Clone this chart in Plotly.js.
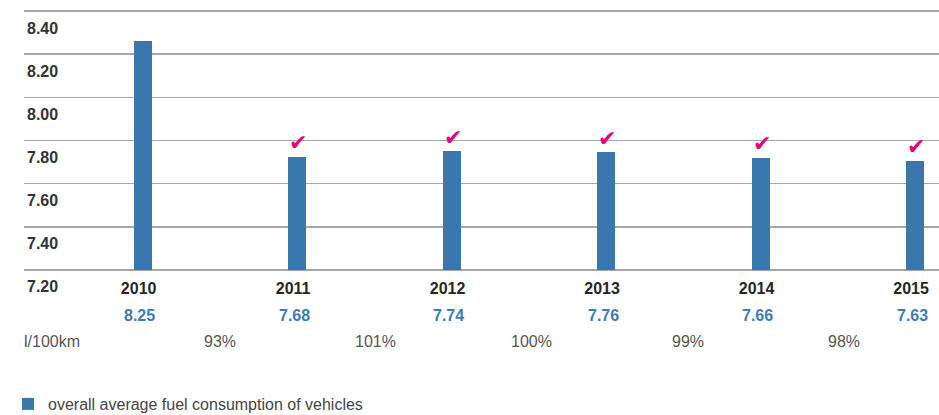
<!DOCTYPE html>
<html>
<head>
<meta charset="utf-8">
<script src="https://cdn.plot.ly/plotly-3.0.1.min.js"></script>
<style>
  html, body { margin: 0; padding: 0; background: #ffffff; }
  #chart { width: 939px; height: 415px; }
</style>
</head>
<body>
<div id="chart"></div>
<script>
// ---- data ----
const years = ["2010", "2011", "2012", "2013", "2014", "2015"];
// bar heights as drawn in the picture (l/100km)
const barValues = [8.26, 7.724, 7.751, 7.746, 7.72, 7.705];
// printed value labels under the years
const valueLabels = ["8.25", "7.68", "7.74", "7.76", "7.66", "7.63"];
// year-over-year percentages shown between years
const changeLabels = ["93%", "101%", "100%", "99%", "98%"];
// check marks above bars
const checked = [false, true, true, true, true, true];
const yTicks = [7.2, 7.4, 7.6, 7.8, 8.0, 8.2, 8.4];
const yTickText = ["7.20", "7.40", "7.60", "7.80", "8.00", "8.20", "8.40"];
const unitLabel = "l/100km";
const seriesName = "overall average fuel consumption of vehicles";

// ---- styling ----
const FONT = "'Liberation Sans Narrow', 'Liberation Sans', Arial, sans-serif";
const BLUE = "#3a77ae";
const MAGENTA = "#e4007c";
const BASE = 7.2;

const xIdx = years.map((_, i) => i);

const traces = [{
  type: "bar",
  x: xIdx,
  y: barValues.map(v => v - BASE),
  base: BASE,
  width: 0.1165,
  marker: { color: BLUE, line: { width: 0 } },
  name: seriesName,
  hoverinfo: "skip",
  showlegend: true
}];

const annotations = [];
years.forEach((y, i) => {
  annotations.push({
    x: i, xref: "x", y: BASE, yref: "y",
    text: valueLabels[i], showarrow: false,
    xanchor: "center", yanchor: "middle",
    xshift: -3, yshift: -46,
    font: { family: FONT, size: 16, color: "#3d7bb5", weight: "bold" }
  });
  if (checked[i]) {
    annotations.push({
      x: i, xref: "x", y: barValues[i], yref: "y",
      text: "\u2714", showarrow: false,
      xanchor: "center", yanchor: "middle",
      xshift: 1, yshift: 14,
      font: { family: "DejaVu Sans", size: 22, color: MAGENTA }
    });
  }
});
changeLabels.forEach((t, i) => {
  annotations.push({
    x: i + 0.5, xref: "x", y: BASE, yref: "y",
    text: t, showarrow: false,
    xanchor: "center", yanchor: "middle",
    xshift: i * 1.5, yshift: -72,
    font: { family: FONT, size: 16, color: "#555555" }
  });
});
annotations.push({
  x: 0, xref: "paper", y: BASE, yref: "y",
  text: unitLabel, showarrow: false,
  xanchor: "left", yanchor: "middle",
  xshift: -2, yshift: -72,
  font: { family: FONT, size: 16, color: "#555555" }
});

const layout = {
  width: 939, height: 415,
  margin: { l: 24, r: 0, t: 8.54, b: 142.84, pad: 0 },
  paper_bgcolor: "#ffffff",
  plot_bgcolor: "#ffffff",
  font: { family: FONT },
  bargap: 0,
  xaxis: {
    type: "linear",
    range: [-0.768, 5.155],
    tickvals: xIdx,
    ticktext: years,
    ticks: "",
    showgrid: false,
    zeroline: false,
    showline: false,
    tickfont: { family: FONT, size: 16, color: "#262626", weight: "bold" },
    ticklabelshift: -4,
    ticklabelstandoff: 5,
    fixedrange: true
  },
  yaxis: {
    range: [7.19, 8.41],
    tickvals: yTicks,
    ticktext: yTickText,
    ticks: "",
    showgrid: true,
    gridcolor: "#a6a6a6",
    gridwidth: 1.6,
    zeroline: false,
    showline: false,
    ticklabelposition: "inside",
    ticklabeloverflow: "allow",
    ticklabelshift: 17,
    ticklabelstandoff: 0,
    tickfont: { family: FONT, size: 16, color: "#333333", weight: "bold" },
    fixedrange: true
  },
  showlegend: true,
  legend: {
    x: 8 / 939, xref: "container", xanchor: "left",
    y: 11 / 415, yref: "container", yanchor: "middle",
    orientation: "h",
    bgcolor: "rgba(0,0,0,0)",
    font: { family: FONT, size: 16, color: "#444444" },
    itemclick: false, itemdoubleclick: false
  },
  annotations: annotations
};

Plotly.newPlot("chart", traces, layout, { displayModeBar: false, staticPlot: true });
</script>
</body>
</html>
